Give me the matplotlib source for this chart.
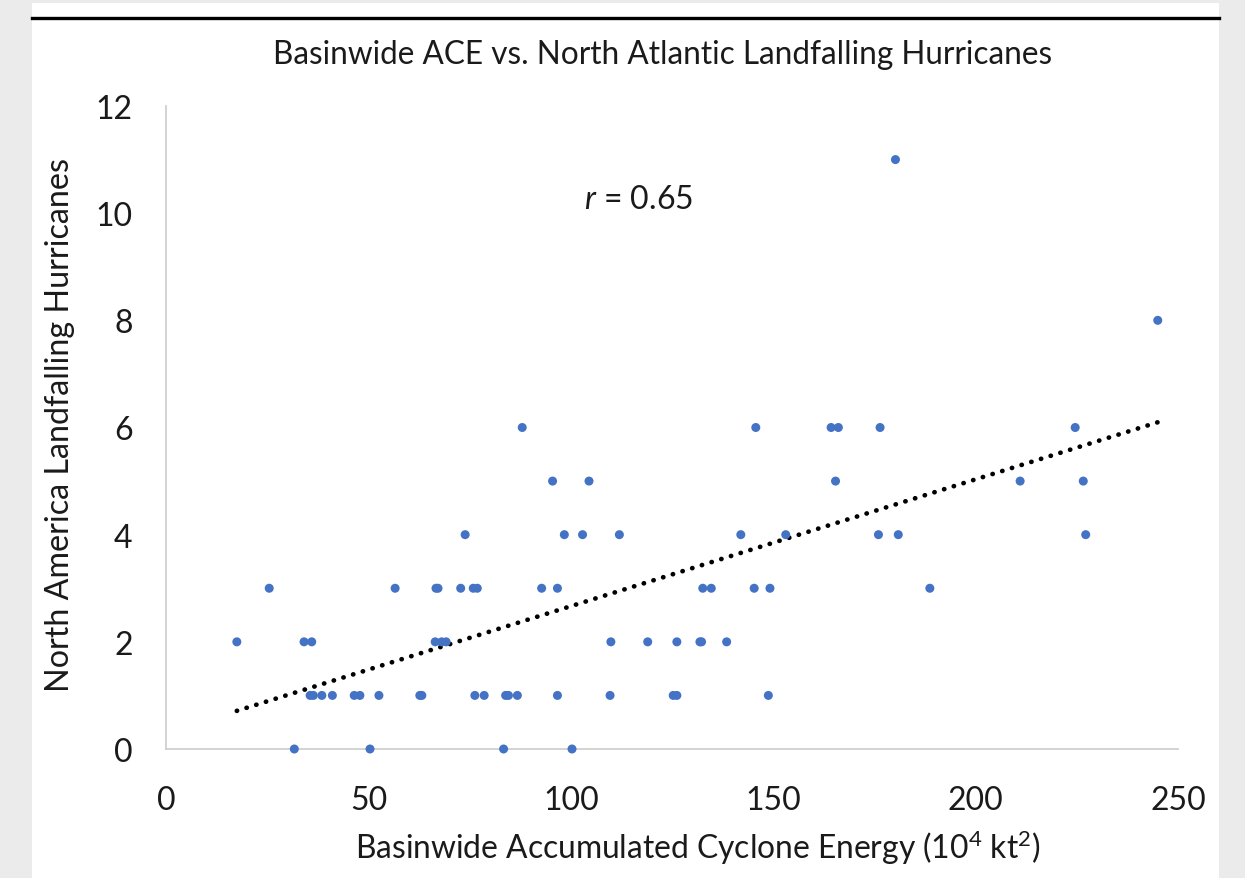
import matplotlib
matplotlib.use('Agg')
import matplotlib.pyplot as plt
import numpy as np
from matplotlib.patches import Rectangle
from matplotlib.lines import Line2D


# basinwide ACE (10^4 kt^2) and landfalling hurricane counts
ace_0 = [31.7, 50.4, 83.4, 100.3]
ace_1 = [35.6, 36.4, 38.5, 41.1, 46.5, 47.9, 52.6, 62.7, 63.2, 76.3, 78.6,
         83.9, 84.6, 86.8, 96.7, 109.7, 125.3, 126.2, 148.8]
ace_2 = [17.5, 34.1, 36.0, 66.5, 68.1, 69.2, 109.9, 119.0, 126.2, 131.9,
         132.3, 138.5]
ace_3 = [25.5, 56.6, 66.7, 67.2, 72.8, 75.9, 76.9, 92.8, 96.7, 132.6, 134.7,
         145.3, 149.2, 188.7]
ace_4 = [73.9, 98.4, 102.9, 112.0, 142.0, 153.1, 176.0, 180.9, 227.2]
ace_5 = [95.5, 104.5, 165.4, 211.0, 226.6]
ace_6 = [88.0, 145.7, 164.3, 166.1, 176.4, 224.6]
ace_8 = [245.0]
ace_11 = [180.2]

groups = [(0, ace_0), (1, ace_1), (2, ace_2), (3, ace_3), (4, ace_4),
          (5, ace_5), (6, ace_6), (8, ace_8), (11, ace_11)]

x_ticks = [0, 50, 100, 150, 200, 250]
y_ticks = [0, 2, 4, 6, 8, 10, 12]

FONT = 'Lato'
plt.rcParams['font.family'] = [FONT, 'DejaVu Sans']
plt.rcParams['mathtext.fontset'] = 'custom'
plt.rcParams['mathtext.rm'] = FONT
plt.rcParams['mathtext.it'] = FONT + ':italic'

ace = np.array([a for _, xs in groups for a in xs])
hurr = np.array([n for n, xs in groups for _ in xs], dtype=float)

fig = plt.figure(figsize=(12.45, 8.79), dpi=100)
fig.patch.set_facecolor('#ebebeb')
fig.patches.append(Rectangle((32 / 1245, 0), (1219 - 32) / 1245, 1 - 4 / 879,
                             transform=fig.transFigure, facecolor='white',
                             edgecolor='none', zorder=-2))
fig.lines.append(Line2D([32 / 1245, 1219 / 1245], [1 - 19 / 879] * 2,
                        transform=fig.transFigure, color='black', lw=2.4,
                        zorder=-1))

ax = fig.add_axes([166 / 1245, 129 / 879, (1178 - 166) / 1245, (750 - 107) / 879])
ax.set_facecolor('none')
ax.set_zorder(2)

ax.scatter(ace, hurr, s=42, color='#4472c4', edgecolors='none', zorder=3,
           clip_on=False)

slope, icpt = np.polyfit(ace, hurr, 1)
xs = np.array([ace.min(), ace.max()])
ax.plot(xs, slope * xs + icpt, color='black', lw=3.4,
        linestyle=(0, (0.05, 2.1)), dash_capstyle='round', zorder=2)

ax.set_xlim(0, 250)
ax.set_ylim(0, 12)
ax.set_xticks(x_ticks)
ax.set_yticks(y_ticks)
ax.tick_params(length=0, labelsize=23, labelcolor='#1a1a1a')
ax.tick_params(axis='x', pad=26)
ax.tick_params(axis='y', pad=24)
for side in ['top', 'right']:
    ax.spines[side].set_visible(False)
for side in ['left', 'bottom']:
    ax.spines[side].set_color('#d0d0d0')
    ax.spines[side].set_linewidth(1.3)

ax.text(103.3, 10.27, r'$\it{r}$ = 0.65', fontsize=23, color='#1a1a1a',
        va='center', ha='left')

fig.text(663 / 1245, 1 - 55 / 879,
         'Basinwide ACE vs. North Atlantic Landfalling Hurricanes',
         ha='center', va='center', fontsize=22.7, color='#1a1a1a')
fig.text(698 / 1245, 1 - 848 / 879,
         'Basinwide Accumulated Cyclone Energy (10$^{4}$ kt$^{2}$)',
         ha='center', va='center', fontsize=22.9, color='#1a1a1a')
fig.text(60 / 1245, 1 - 425 / 879, 'North America Landfalling Hurricanes',
         ha='center', va='center', rotation=90, fontsize=23.2, color='#1a1a1a')

fig.savefig('out.png', dpi=100)
